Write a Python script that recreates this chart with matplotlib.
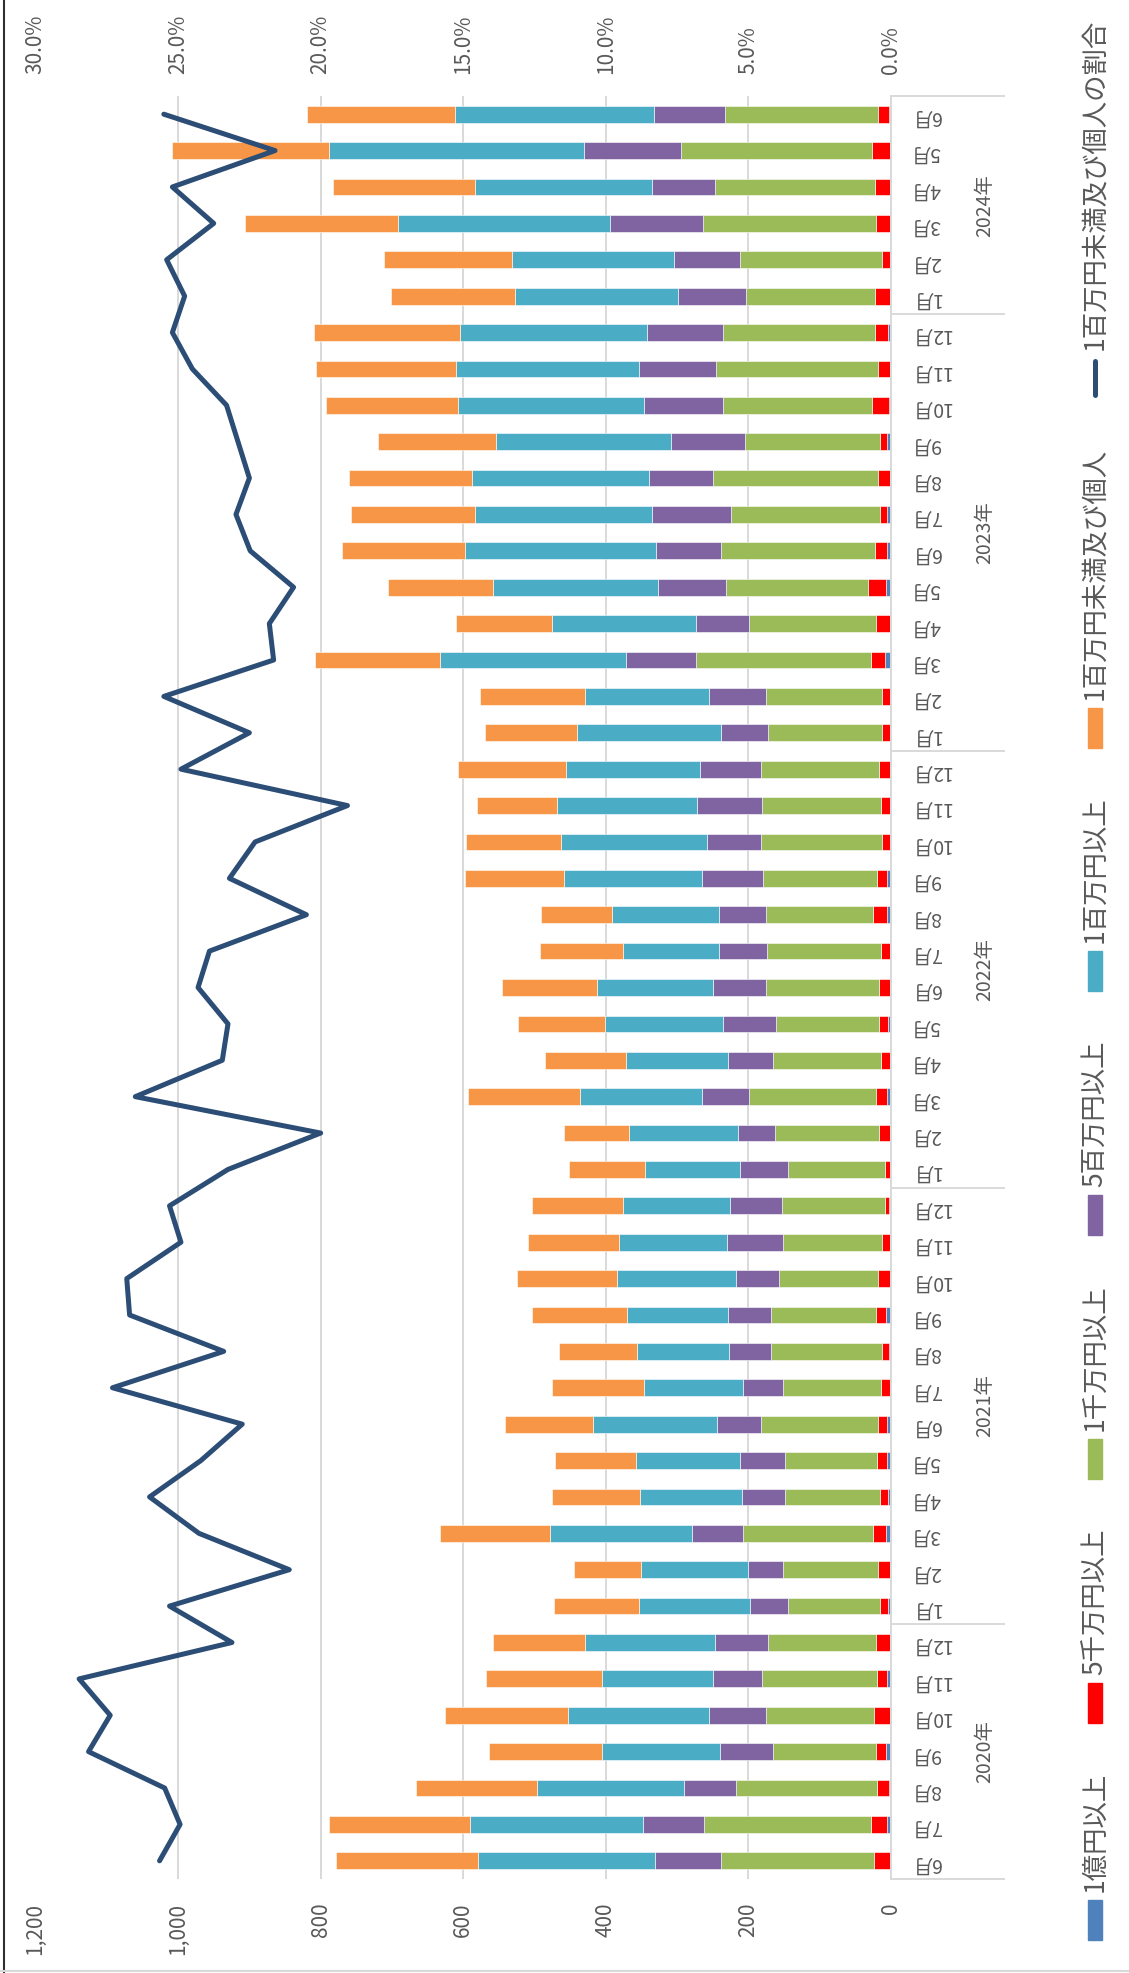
import matplotlib
matplotlib.use('Agg')
import matplotlib.pyplot as plt
from matplotlib.patches import Rectangle
from matplotlib.transforms import blended_transform_factory
import numpy as np

plt.rcParams['font.family'] = ['Noto Sans CJK JP', 'DejaVu Sans']

# ---- data (2020年6月 .. 2024年6月) ----
month_no = [6, 7, 8, 9, 10, 11, 12,
            1, 2, 3, 4, 5, 6, 7, 8, 9, 10, 11, 12,
            1, 2, 3, 4, 5, 6, 7, 8, 9, 10, 11, 12,
            1, 2, 3, 4, 5, 6, 7, 8, 9, 10, 11, 12,
            1, 2, 3, 4, 5, 6]
month_labels = [f'{m}月' for m in month_no]
year_labels = ['2020年', '2021年', '2022年', '2023年', '2024年']
year_first = [0, 7, 19, 31, 43]   # index of first month in each year group

oku = [0, 6, 3, 7, 1, 6, 1, 4, 1, 7, 4, 5, 5, 0, 3, 7, 0, 2, 3, 0, 1, 5, 0, 4, 1,
       1, 5, 5, 0, 0, 0, 0, 0, 8, 2, 7, 5, 5, 1, 5, 3, 1, 4, 2, 0, 0, 1, 1, 3]
sen5 = [24, 22, 17, 14, 23, 13, 20, 11, 17, 18, 12, 14, 13, 14, 9, 14, 18, 10, 6, 8, 16, 16, 14, 13, 16,
        13, 20, 15, 12, 14, 17, 12, 12, 20, 19, 25, 17, 10, 17, 10, 23, 17, 18, 20, 12, 21, 21, 25, 15]
sen1 = [215, 235, 198, 145, 151, 162, 152, 129, 134, 183, 133, 130, 164, 137, 156, 147, 139, 139, 144, 137,
        146, 178, 152, 144, 159, 160, 151, 160, 170, 167, 165, 160, 164, 246, 178, 199, 216, 209, 232, 190,
        210, 228, 213, 182, 200, 243, 225, 269, 215]
hyaku5 = [92, 85, 72, 74, 80, 68, 74, 54, 49, 71, 60, 63, 62, 56, 59, 61, 61, 79, 73, 67, 51, 66, 63, 75, 74,
          67, 65, 85, 76, 91, 86, 67, 79, 98, 75, 96, 91, 111, 89, 103, 110, 108, 107, 95, 92, 130, 88, 136, 99]
hyaku1 = [248, 243, 206, 165, 198, 157, 182, 155, 150, 200, 143, 146, 174, 139, 129, 141, 166, 152, 150, 133,
          153, 171, 143, 165, 162, 135, 150, 194, 205, 197, 188, 202, 174, 260, 202, 231, 268, 249, 249, 246,
          261, 256, 263, 228, 227, 297, 249, 358, 279]
miman = [200, 198, 170, 159, 172, 162, 129, 120, 94, 154, 123, 114, 123, 129, 110, 134, 141, 127, 128, 106,
         92, 157, 114, 122, 134, 117, 100, 139, 133, 112, 151, 128, 148, 176, 134, 148, 173, 174, 172, 165,
         185, 197, 204, 174, 180, 215, 199, 219, 208]
ratio = [25.65, 24.93, 25.47, 28.14, 27.38, 28.47, 23.11, 25.3, 21.1, 24.27, 26.0, 24.2, 22.75, 27.3, 23.4,
         26.7, 26.8, 24.9, 25.3, 23.25, 20.0, 26.5, 23.45, 23.25, 24.3, 23.9, 20.5, 23.2, 22.3, 19.06, 24.9,
         22.5, 25.5, 21.65, 21.8, 20.95, 22.47, 22.97, 22.5, 22.9, 23.3, 24.5, 25.2, 24.77, 25.4, 23.75, 25.2,
         21.6, 25.5]

series_names = ['1億円以上', '5千万円以上', '1千万円以上', '5百万円以上', '1百万円以上', '1百万円未満及び個人']
series_vals = [oku, sen5, sen1, hyaku5, hyaku1, miman]
colors = ['#4F81BD', '#FF0000', '#9BBB59', '#8064A2', '#4BACC6', '#F79646']
line_name = '1百万円未満及び個人の割合'
line_color = '#2C4D75'
grid_c = '#D9D9D9'
txt_c = '#595959'

# ---- figure (chart drawn rotated 90 deg) ----
W, H = 1129, 1973
fig = plt.figure(figsize=(W / 100, H / 100), dpi=100)
x0, x1, ytop, ybot = 35.5, 891, 96, 1879
ax = fig.add_axes([x0 / W, (H - ybot) / H, (x1 - x0) / W, (ybot - ytop) / H])

pos = np.arange(len(month_labels))
left = np.zeros(len(pos))
for vals, c in zip(series_vals, colors):
    ax.barh(pos, vals, left=left, height=0.46, color=c, edgecolor='white', linewidth=0.4, zorder=2)
    left += np.array(vals)

ax.set_xlim(1200, 0)
ax.set_ylim(-0.5, len(pos) - 0.5)
ax.set_xticks(range(0, 1201, 200))
ax.set_xticklabels([f'{v:,}' for v in range(0, 1201, 200)], rotation=90)
ax.tick_params(axis='x', length=0, pad=17, labelsize=15, colors=txt_c)
ax.xaxis.grid(True, color=grid_c, linewidth=1.4)
ax.set_axisbelow(True)
ax.yaxis.tick_right()
ax.set_yticks(pos)
ax.set_yticklabels(month_labels, rotation=180)
ax.tick_params(axis='y', length=0, pad=14, labelsize=14, colors=txt_c)
for lab in ax.get_yticklabels():
    lab.set_ha('left')
for s in ['top', 'bottom', 'left']:
    ax.spines[s].set_visible(False)
ax.spines['right'].set_color(grid_c)
ax.spines['right'].set_linewidth(1.4)

ax2 = ax.twiny()
ax2.plot(ratio, pos, color=line_color, linewidth=3.6, solid_joinstyle='round', solid_capstyle='round')
ax2.set_xlim(30, 0)
ax2.set_xticks(range(0, 31, 5))
ax2.set_xticklabels([f'{v:.1f}%' for v in range(0, 31, 5)], rotation=90)
ax2.tick_params(axis='x', length=0, pad=16, labelsize=15, colors=txt_c)
for s in ax2.spines.values():
    s.set_visible(False)

# year groups on category axis
blend = blended_transform_factory(fig.transFigure, ax.transData)
bounds = year_first + [len(pos)]
for b in bounds:
    ax.plot([x1 / W, 1004 / W], [b - 0.5, b - 0.5], transform=blend, color=grid_c,
            linewidth=1.4, clip_on=False)
for i, yl in enumerate(year_labels):
    mid = (bounds[i] + bounds[i + 1] - 1) / 2
    ax.text(985 / W, mid, yl, transform=blend, rotation=90, ha='center', va='center',
            fontsize=14, color=txt_c)

# ---- legend + border in pixel space ----
lax = fig.add_axes([0, 0, 1, 1])
lax.set_xlim(0, W)
lax.set_ylim(H, 0)
lax.axis('off')
lax.plot([4, 4], [0, H], color='#303030', linewidth=1.5)
lax.plot([0, W], [H - 2, H - 2], color=grid_c, linewidth=1.5)

renderer = fig.canvas.get_renderer()
leg_fs = 19
names = series_names + [line_name]
lens = []
for nm in names:
    t = lax.text(0, 0, nm, rotation=90, fontsize=leg_fs)
    lens.append(t.get_window_extent(renderer=renderer).height)
    t.remove()
mk, g1 = 40, 8
span_top, span_bot = 19, 1940
gap = (span_bot - span_top - sum(lens) - len(names) * (mk + g1)) / (len(names) - 1)
lx = 1095
y = span_bot
for i, nm in enumerate(names):
    if i < len(colors):
        lax.add_patch(Rectangle((lx - 7, y - mk), 14, mk, color=colors[i]))
    else:
        lax.plot([lx, lx], [y - mk + 3, y - 3], color=line_color, linewidth=3.6,
                 solid_capstyle='round')
    lax.text(lx, y - mk - g1, nm, rotation=90, rotation_mode='anchor', ha='left', va='center',
             fontsize=leg_fs, color=txt_c)
    y = y - mk - g1 - lens[i] - gap

fig.savefig('out.png', dpi=100)
